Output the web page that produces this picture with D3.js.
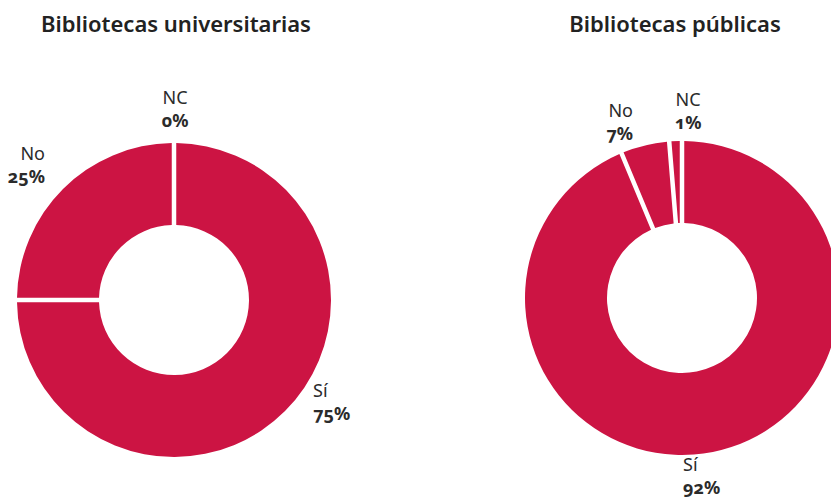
<!DOCTYPE html>
<html>
<head>
<meta charset="utf-8">
<script src="https://cdn.jsdelivr.net/npm/d3@7"></script>
<style>
  body { margin: 0; background: #fff; }
  svg { display: block; font-family: "Noto Sans", sans-serif; font-feature-settings: "onum"; }
  .title { font-size: 22px; font-weight: 600; fill: #222; }
  .cat { font-size: 18px; fill: #2b2b2b; }
  .pct { font-size: 18px; font-weight: 700; fill: #2b2b2b; }
</style>
</head>
<body>
<script>
// Data
var titles = ["Bibliotecas universitarias", "Bibliotecas públicas"];
var categories = ["Sí", "No", "NC"];
var univShares = [75, 25, 0];        // slice sizes as drawn
var pubShares = [93.7, 5.0, 1.3];
var univLabels = ["75%", "25%", "0%"];
var pubLabels = ["92%", "7%", "1%"];

// Layout
var width = 831, height = 498,
    outer = 157, inner = 75, gap = 4.5,
    red = "#cc1443";

var charts = [
  {title: titles[0], shares: univShares, labels: univLabels, cx: 174, cy: 300, tx: 176,
   // label anchor per category: dx, dy (first baseline), text-anchor
   pos: [[139, 97, "start"], [-129, -140, "end"], [1, -196, "middle"]]},
  {title: titles[1], shares: pubShares, labels: pubLabels, cx: 682, cy: 298, tx: 675,
   pos: [[1, 173, "start"], [-49, -181, "end"], [6, -192, "middle"]]}
];

var svg = d3.select("body").append("svg")
    .attr("width", width)
    .attr("height", height);

var pie = d3.pie().sort(null).value(function(d) { return d; });

var arc = d3.arc()
    .innerRadius(inner)
    .outerRadius(outer)
    .padRadius(outer)
    .padAngle(gap / outer);

charts.forEach(function(c) {
  svg.append("text")
      .attr("class", "title")
      .attr("x", c.tx)
      .attr("y", 32)
      .attr("text-anchor", "middle")
      .text(c.title);

  var g = svg.append("g")
      .attr("transform", "translate(" + c.cx + "," + c.cy + ")");

  g.selectAll("path")
      .data(pie(c.shares).filter(function(d) { return d.value > 0; }))
    .enter().append("path")
      .attr("fill", red)
      .attr("d", arc);

  var lab = g.selectAll(".label")
      .data(categories)
    .enter().append("text")
      .attr("class", "label")
      .attr("text-anchor", function(d, i) { return c.pos[i][2]; });

  lab.append("tspan")
      .attr("class", "cat")
      .attr("x", function(d, i) { return c.pos[i][0]; })
      .attr("y", function(d, i) { return c.pos[i][1]; })
      .text(function(d) { return d; });

  lab.append("tspan")
      .attr("class", "pct")
      .attr("x", function(d, i) { return c.pos[i][0]; })
      .attr("y", function(d, i) { return c.pos[i][1] + 23; })
      .text(function(d, i) { return c.labels[i]; });
});
</script>
</body>
</html>
